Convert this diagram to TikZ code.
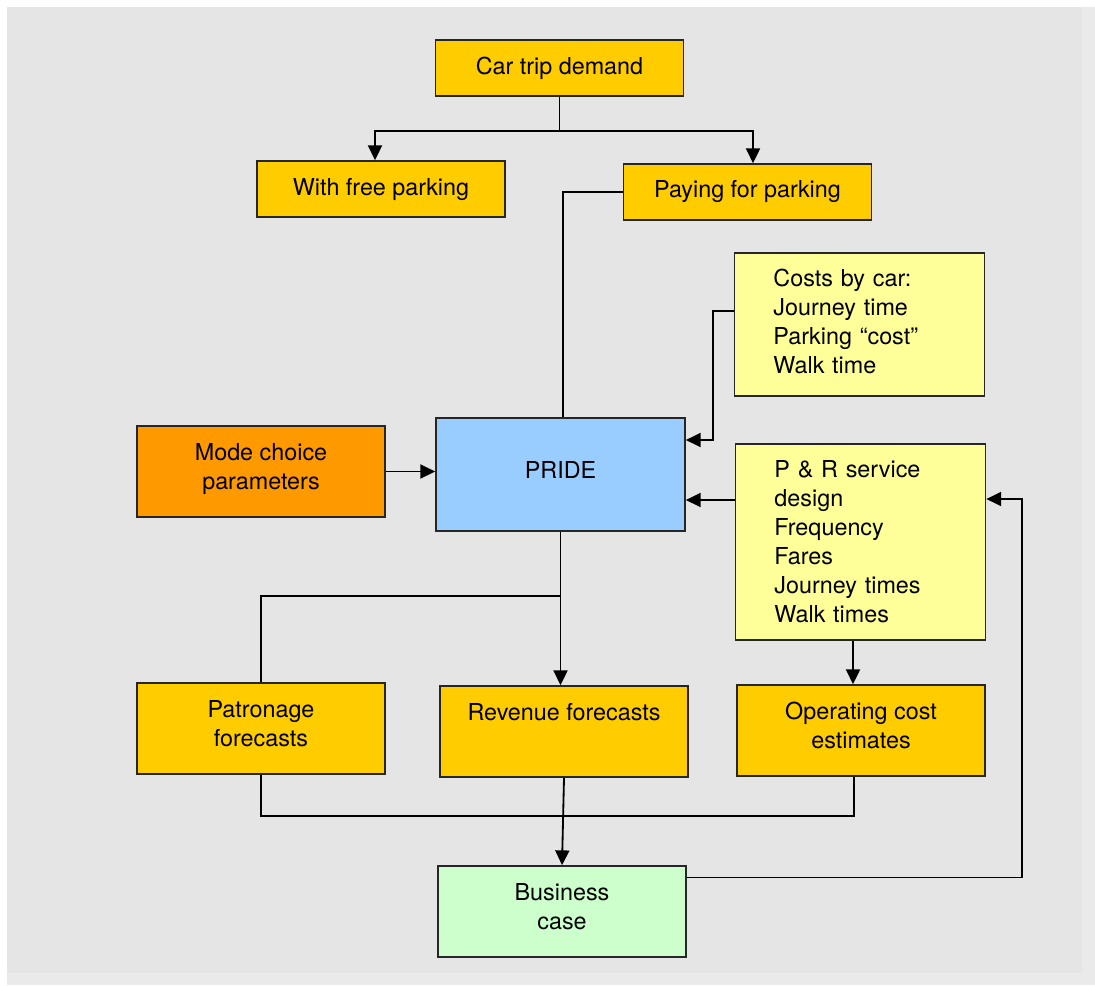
\documentclass[tikz,border=0pt]{standalone}
\usepackage{fontspec}
\setmainfont{TeX Gyre Heros}
\usetikzlibrary{arrows.meta,calc}

\definecolor{bggray}{HTML}{E5E5E5}
\definecolor{bgedge}{HTML}{EAEAEA}
\definecolor{gold}{HTML}{FFCC00}
\definecolor{deeporange}{HTML}{FF9900}
\definecolor{skyblue}{HTML}{99CCFF}
\definecolor{paleyellow}{HTML}{FFFF99}
\definecolor{mint}{HTML}{CCFFCC}

\begin{document}
\begin{tikzpicture}[x=0.025cm,y=-0.025cm,>={Triangle[length=10.5pt,width=10pt]},
  font=\fontsize{16.6}{20.6}\selectfont,line width=1.3pt,
  box/.style={draw=black!85,line width=1.2pt,inner sep=0pt,minimum width=6.2cm,
    minimum height=2.275cm,align=center},
  lifted/.style={text depth=7pt},
  listbox/.style={box,fill=paleyellow,align=left,text width=4.3cm,inner xsep=0.975cm}]
  % Background
  \fill[white] (0,0) rectangle (1095,985);
  \fill[bgedge] (7,7) rectangle (1095,985);
  \fill[bggray] (7,7) rectangle (1082,973);

  % Boxes
  \node[box,fill=gold,minimum height=1.4cm] (demand) at (559.5,68) {Car trip demand};
  \node[box,fill=gold,minimum height=1.4cm] (free) at (381,189) {With free parking};
  \node[box,fill=gold,minimum height=1.4cm] (paying) at (747.5,192) {Paying for parking};
  \node[listbox,minimum height=3.575cm,text depth=66pt] (carcost) at (859.5,324.5)
    {Costs by car:\\Journey time\\Parking “cost”\\Walk time};
  \node[box,lifted,fill=skyblue,minimum width=6.225cm,minimum height=2.825cm] (pride) at (560.5,474.5) {PRIDE};
  \node[box,lifted,fill=deeporange] (mode) at (261,471.5) {Mode choice\\parameters};
  \node[listbox,minimum height=4.9cm] (service) at (860.5,542)
    {P \& R service\\design\\Frequency\\Fares\\Journey times\\Walk times};
  \node[box,lifted,fill=gold] (patronage) at (261,728.5) {Patronage\\forecasts};
  \node[box,lifted,fill=gold] (revenue) at (564,731.5) {Revenue forecasts\\\mbox{}};
  \node[box,lifted,fill=gold] (opcost) at (861,730.5) {Operating cost\\estimates};
  \node[box,lifted,fill=mint] (business) at (562,911.5) {Business\\case};

  % Car trip demand split
  \coordinate (split) at ($(demand.south)+(0,34)$);
  \draw (demand.south) -- (split);
  \draw[->] (split) -| ($(free.north)+(-6,0)$);
  \draw[->] (split) -| ($(paying.north)+(5.5,0)$);

  % Inputs to PRIDE
  \draw (paying.west) -| ($(pride.north)+(2.5,0)$);
  \draw[->] ($(carcost.west)+(0,-13.5)$) -- ++(-21,0) |- ($(pride.east)+(0,-34.5)$);
  \draw[->] ($(service.west)+(0,-42)$) -- (pride.east |- 0,500);
  \draw[->] (mode.east) -- (pride.west |- mode.east);

  % Outputs of PRIDE
  \draw[->] (pride.south) -- (pride.south |- revenue.north);
  \draw ($(pride.south)+(0,64)$) -| (patronage.north);
  \draw[->] ($(service.south)+(-7.5,0)$) -- ($(opcost.north)+(-8,0)$);

  % Forecasts into business case
  \draw (patronage.south) |- ($(opcost.south)+(-7,39)$) -- ($(opcost.south)+(-7,0)$);
  \draw[->] (revenue.south) -- (business.north);
  \draw[->] ($(business.east)+(0,-34)$) -- ++(335,0) |- ($(service.east)+(0,-43)$);
\end{tikzpicture}
\end{document}
